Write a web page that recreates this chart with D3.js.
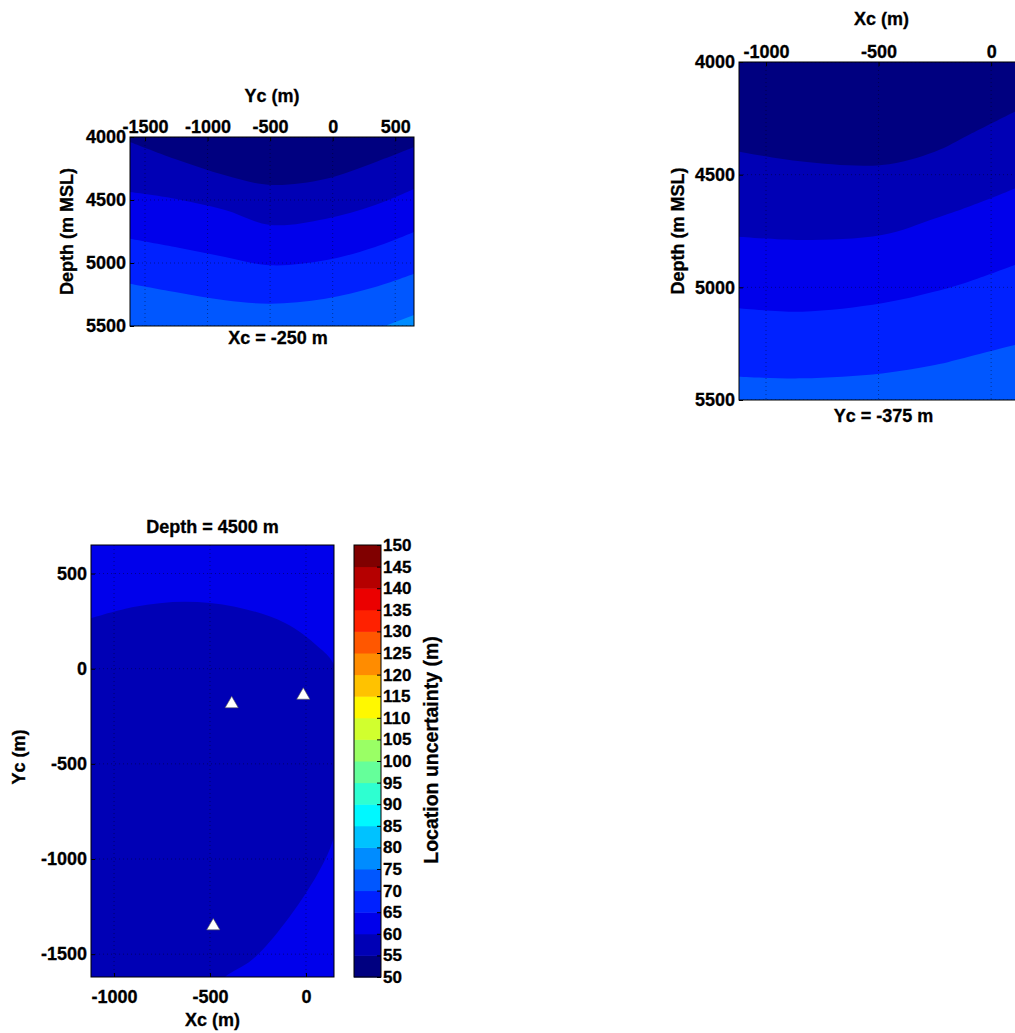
<!DOCTYPE html>
<html><head><meta charset="utf-8">
<script src="https://cdn.jsdelivr.net/npm/d3@7"></script>
<style>
html,body{margin:0;padding:0;background:#fff;overflow:hidden;}
svg{display:block;}
text{font-family:"Liberation Sans",Arial,Helvetica,sans-serif;font-weight:bold;fill:#000;stroke:#000;stroke-width:0.3px;}
</style></head><body>
<svg id="fig" width="1015" height="1033"></svg>
<script>
// ---------------- data ----------------
const levels = [50,55,60,65,70,75,80,85,90,95,100,105,110,115,120,125,130,135,140,145,150];
const depthTicks = [4000,4500,5000,5500];
const ycTicksA = [-1500,-1000,-500,0,500];
const xcTicksB = [-1000,-500,0];
const xcTicksC = [-1000,-500,0];
const ycTicksC = [-1500,-1000,-500,0,500];

// Panel A: vertical slice at Xc = -250 m, contour depths (m) along Yc
const sliceA_Yc  = [-1620,-1260,-860,-500,-60,340,650];
const sliceA_c55 = [4040,4175,4304,4380,4333,4200,4080];
const sliceA_c60 = [4437,4490,4580,4698,4650,4540,4413];
const sliceA_c65 = [4807,4873,4952,5018,4979,4873,4754];
const sliceA_c70 = [5164,5230,5296,5323,5283,5190,5085];
const sliceA_c75_Yc = [300,650];
const sliceA_c75 = [5544,5413];

// Panel B: vertical slice at Yc = -375 m, contour depths (m) along Xc
const sliceB_Xc  = [-1120,-840,-485,-250,-100,105,150];
const sliceB_c55 = [4398,4442,4457,4398,4324,4221,4200];
const sliceB_c60 = [4775,4790,4768,4694,4642,4561,4540];
const sliceB_c65 = [5093,5108,5071,5019,4975,4901,4885];
const sliceB_c70 = [5397,5404,5382,5345,5308,5256,5245];

// Panel C: depth slice at 4500 m, the 60 m contour (region inside < 60)
const planC_c60_Xc = [-1116,-891,-630,-370,-109,63,141,175,185,175,141,63,-109,-281,-422,-470];
const planC_c60_Yc = [267,326,352,326,240,116,30,-200,-450,-700,-900,-1073,-1335,-1530,-1620,-1680];

// Stations (white triangles)
const stationsXc = [-387,-14,-483];
const stationsYc = [-180,-135,-1347];

// ---------------- styling ----------------
const palette = ["#000080","#0000b5","#0000eb","#0021ff","#0057ff","#008cff","#00c2ff","#00f8ff",
                 "#2effd1","#65ff9a","#9aff65","#d1ff2e","#fff800","#ffc200","#ff8c00","#ff5700",
                 "#ff2100","#eb0000","#b50000","#800000"];
const FS = 18;
const fmt = d => String(d);
const svg = d3.select("#fig");
svg.append("rect").attr("width",1015).attr("height",1033).attr("fill","#fff");
const defs = svg.append("defs");
const bandColor = lv => palette[levels.indexOf(lv)];

function clip(id, b){
  defs.append("clipPath").attr("id",id).append("rect")
    .attr("x",b.left).attr("y",b.top).attr("width",b.right-b.left).attr("height",b.bottom-b.top);
}
function styleAxis(g, fs){
  g.selectAll("text").style("font-size",fs+"px").style("font-weight","bold")
    .style("font-family","'Liberation Sans',Arial,sans-serif").attr("fill","#000");
  g.select(".domain").remove();
  g.selectAll(".tick line").attr("stroke","#000");
}
function grid(g, b, x, y, xt, yt){
  const gg = g.append("g").attr("stroke","#000").attr("stroke-opacity",0.4)
    .attr("stroke-dasharray","1,3").attr("stroke-width",1);
  xt.forEach(v=>gg.append("line").attr("x1",x(v)).attr("x2",x(v)).attr("y1",b.top).attr("y2",b.bottom));
  yt.forEach(v=>gg.append("line").attr("y1",y(v)).attr("y2",y(v)).attr("x1",b.left).attr("x2",b.right));
}
function frame(b){
  svg.append("rect").attr("x",b.left).attr("y",b.top).attr("width",b.right-b.left)
    .attr("height",b.bottom-b.top).attr("fill","none").attr("stroke","#000").attr("stroke-width",1);
}
function rotLabel(txt, x, y, fs){
  svg.append("text").attr("transform",`translate(${x},${y}) rotate(-90)`)
    .attr("text-anchor","middle").attr("dy","0.35em").style("font-size",(fs||FS)+"px").text(txt);
}
function label(txt, x, y, fs){
  svg.append("text").attr("x",x).attr("y",y).attr("text-anchor","middle")
    .style("font-size",(fs||FS)+"px").text(txt);
}
function slicePanel(id, b, xDom, xTicks, contours){
  const x = d3.scaleLinear().domain(xDom).range([b.left,b.right]);
  const y = d3.scaleLinear().domain([4000,5500]).range([b.top,b.bottom]);
  clip(id, b);
  const g = svg.append("g").attr("clip-path",`url(#${id})`);
  g.append("rect").attr("x",b.left).attr("y",b.top).attr("width",b.right-b.left)
    .attr("height",b.bottom-b.top).attr("fill",palette[0]);
  const area = d3.area().x(d=>x(d[0])).y0(y(5800)).y1(d=>y(d[1])).curve(d3.curveCatmullRom.alpha(0.5));
  contours.forEach(c=>{
    const pts = c.xs.map((v,i)=>[v,c.ds[i]]);
    g.append("path").attr("d",area(pts)).attr("fill",bandColor(c.level));
  });
  grid(g, b, x, y, xTicks, depthTicks);
  frame(b);
  const ax = svg.append("g").attr("transform",`translate(0,${b.top})`)
    .call(d3.axisTop(x).tickValues(xTicks).tickFormat(fmt).tickSize(-4).tickPadding(4));
  styleAxis(ax, FS);
  const ay = svg.append("g").attr("transform",`translate(${b.left},0)`)
    .call(d3.axisLeft(y).tickValues(depthTicks).tickFormat(fmt).tickSize(-4).tickPadding(4));
  styleAxis(ay, FS);
  return {x,y};
}

// ---------------- Panel A ----------------
const A = {left:130,right:414,top:137,bottom:326};
slicePanel("clipA", A, [-1620,650], ycTicksA, [
  {level:55, xs:sliceA_Yc, ds:sliceA_c55},
  {level:60, xs:sliceA_Yc, ds:sliceA_c60},
  {level:65, xs:sliceA_Yc, ds:sliceA_c65},
  {level:70, xs:sliceA_Yc, ds:sliceA_c70},
  {level:75, xs:sliceA_c75_Yc, ds:sliceA_c75}
]);
label("Yc (m)", (A.left+A.right)/2, 102);
label("Xc = -250 m", (A.left+A.right)/2+6, 344);
rotLabel("Depth (m MSL)", 67, (A.top+A.bottom)/2);

// ---------------- Panel B ----------------
const B = {left:739,right:1024,top:62,bottom:400};
slicePanel("clipB", B, [-1120,146], xcTicksB, [
  {level:55, xs:sliceB_Xc, ds:sliceB_c55},
  {level:60, xs:sliceB_Xc, ds:sliceB_c60},
  {level:65, xs:sliceB_Xc, ds:sliceB_c65},
  {level:70, xs:sliceB_Xc, ds:sliceB_c70}
]);
label("Xc (m)", (B.left+B.right)/2, 25);
label("Yc = -375 m", (B.left+B.right)/2+2, 422);
rotLabel("Depth (m MSL)", 678, (B.top+B.bottom)/2);

// ---------------- Panel C ----------------
const C = {left:91,right:334,top:545,bottom:977};
const xC = d3.scaleLinear().domain([-1120,146]).range([C.left,C.right]);
const yC = d3.scaleLinear().domain([-1620,650]).range([C.bottom,C.top]);
clip("clipC", C);
const gC = svg.append("g").attr("clip-path","url(#clipC)");
gC.append("rect").attr("x",C.left).attr("y",C.top).attr("width",C.right-C.left)
  .attr("height",C.bottom-C.top).attr("fill",bandColor(60));
const arcPts = planC_c60_Xc.map((v,i)=>[v,planC_c60_Yc[i]]);
const arcLine = d3.line().x(d=>xC(d[0])).y(d=>yC(d[1])).curve(d3.curveCatmullRom.alpha(0.5));
const first = arcPts[0], last = arcPts[arcPts.length-1];
const innerPath = arcLine(arcPts) +
  `L${xC(last[0])},${yC(-1800)}L${xC(-1250)},${yC(-1800)}L${xC(-1250)},${yC(first[1])}Z`;
gC.append("path").attr("d",innerPath).attr("fill",bandColor(55));
grid(gC, C, xC, yC, xcTicksC, ycTicksC);
frame(C);
const axC = svg.append("g").attr("transform",`translate(0,${C.bottom})`)
  .call(d3.axisBottom(xC).tickValues(xcTicksC).tickFormat(fmt).tickSize(-4).tickPadding(13));
styleAxis(axC, FS);
const ayC = svg.append("g").attr("transform",`translate(${C.left},0)`)
  .call(d3.axisLeft(yC).tickValues(ycTicksC).tickFormat(fmt).tickSize(-4).tickPadding(4));
styleAxis(ayC, FS);
svg.append("g").selectAll("path").data(stationsXc.map((v,i)=>[v,stationsYc[i]])).join("path")
  .attr("transform",d=>`translate(${xC(d[0])},${yC(d[1])+1})`)
  .attr("d",d3.symbol(d3.symbolTriangle).size(76))
  .attr("fill","#fff").attr("stroke","#555").attr("stroke-width",0.6);
label("Depth = 4500 m", (C.left+C.right)/2, 533);
label("Xc (m)", (C.left+C.right)/2, 1026);
rotLabel("Yc (m)", 19, 757);

// ---------------- Colorbar ----------------
const CB = {left:354,right:381,top:545,bottom:977};
const yCB = d3.scaleLinear().domain([50,150]).range([CB.bottom,CB.top]);
svg.append("g").selectAll("rect").data(levels.slice(0,-1)).join("rect")
  .attr("x",CB.left).attr("width",CB.right-CB.left)
  .attr("y",d=>yCB(d+5)).attr("height",d=>yCB(d)-yCB(d+5)+0.5)
  .attr("fill",d=>bandColor(d));
frame(CB);
const acb = svg.append("g").attr("transform",`translate(${CB.right},0)`)
  .call(d3.axisRight(yCB).tickValues(levels).tickFormat(fmt).tickSize(-4).tickPadding(2));
styleAxis(acb, 17);
rotLabel("Location uncertainty (m)", 431, 750, 19.5);
</script>
</body></html>
